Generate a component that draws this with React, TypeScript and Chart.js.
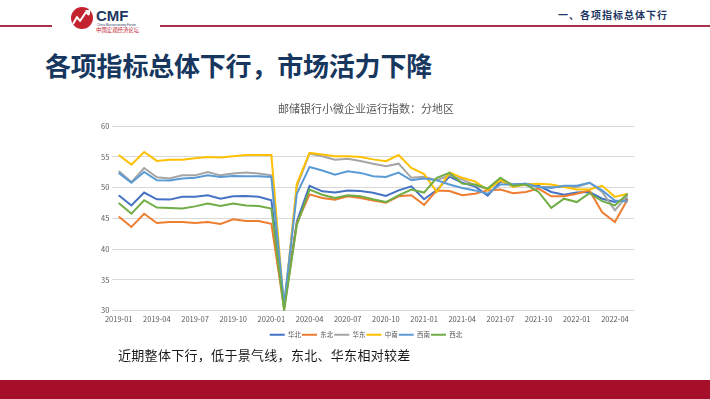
import React, { useEffect, useRef } from "react";
import { Chart, registerables } from "chart.js";

Chart.register(...registerables);

const months = [
  "2019-01", "2019-02", "2019-03", "2019-04", "2019-05", "2019-06", "2019-07", "2019-08", "2019-09", "2019-10", "2019-11", "2019-12",
  "2020-01", "2020-02", "2020-03", "2020-04", "2020-05", "2020-06", "2020-07", "2020-08", "2020-09", "2020-10", "2020-11", "2020-12",
  "2021-01", "2021-02", "2021-03", "2021-04", "2021-05", "2021-06", "2021-07", "2021-08", "2021-09", "2021-10", "2021-11", "2021-12",
  "2022-01", "2022-02", "2022-03", "2022-04", "2022-05",
];

const seriesNames = ["华北", "东北", "华东", "中南", "西南", "西北"];
const seriesColors = ["#4472C4", "#ED7D31", "#A5A5A5", "#FFC000", "#5B9BD5", "#70AD47"];

const huabei = [
  48.75, 47.1, 49.2, 48.1, 48.05, 48.5, 48.5, 48.75, 48.2, 48.6, 48.65, 48.5, 47.95,
  30.6, 44.5, 50.3, 49.4, 49.2, 49.55, 49.45, 49.15, 48.65, 49.55, 50.2,
  48.1, 49.6, 51.8, 50.8, 50.2, 48.7, 51.0, 50.5, 50.65, 50.3, 49.3, 48.85,
  49.2, 49.3, 48.2, 47.65, 48.2,
];
const dongbei = [
  45.3, 43.6, 45.75, 44.25, 44.4, 44.4, 44.25, 44.4, 44.1, 44.85, 44.55, 44.55, 44.1,
  30.3, 44.2, 48.9, 48.3, 48.05, 48.6, 48.3, 47.9, 47.55, 48.6, 48.75,
  47.2, 49.55, 49.45, 48.75, 49.0, 49.55, 49.7, 49.1, 49.3, 49.85, 48.6, 48.6,
  49.0, 49.55, 46.0, 44.4, 48.1,
];
const huadong = [
  52.7, 50.9, 53.2, 51.7, 51.5, 52.0, 52.0, 52.55, 52.0, 52.3, 52.45, 52.3, 52.0,
  30.4, 50.2, 55.55, 55.1, 54.55, 54.7, 54.35, 53.9, 53.5, 53.9, 51.6,
  51.75, 51.2, 52.0, 51.3, 50.4, 49.7, 51.2, 50.5, 50.4, 50.1, 50.1, 50.1,
  50.1, 50.8, 49.3, 46.3, 48.75,
];
const zhongnan = [
  55.3, 53.75, 55.8, 54.35, 54.55, 54.55, 54.8, 55.0, 54.9, 55.1, 55.3, 55.3, 55.3,
  30.2, 50.6, 55.65, 55.4, 55.1, 55.1, 55.0, 54.6, 54.3, 55.3, 53.2,
  52.2, 49.3, 52.45, 51.6, 51.0, 49.6, 51.2, 50.1, 50.5, 50.65, 50.5, 50.1,
  49.7, 49.7, 50.3, 48.5, 49.0,
];
const xinan = [
  52.4, 50.8, 52.55, 51.2, 51.15, 51.5, 51.6, 52.0, 51.75, 51.9, 51.85, 51.85, 51.75,
  31.0, 49.0, 53.35, 52.8, 52.1, 52.65, 52.4, 51.85, 51.75, 52.45, 51.2,
  51.5, 51.2, 50.5, 49.95, 49.55, 49.0, 50.5, 50.5, 50.65, 50.1, 49.95, 50.3,
  50.3, 50.8, 49.55, 47.9, 47.75,
];
const xibei = [
  47.5, 45.75, 47.95, 46.75, 46.7, 46.6, 46.95, 47.4, 47.0, 47.4, 47.1, 47.0, 46.6,
  30.0, 43.9, 49.7, 48.85, 48.3, 48.75, 48.6, 48.1, 47.65, 48.75, 49.7,
  49.2, 51.6, 52.4, 50.65, 50.5, 49.85, 51.6, 50.3, 50.5, 49.3, 46.7, 48.2,
  47.65, 49.1, 47.8, 47.1, 49.0,
];
const seriesValues = [huabei, dongbei, huadong, zhongnan, xinan, xibei];

const yMin = 30;
const yMax = 60;
const yStep = 5;
const labelEvery = 3;

const chartTitle = "邮储银行小微企业运行指数：分地区";
const slideTitle = "各项指标总体下行，市场活力下降";
const sectionTitle = "一、各项指标总体下行";
const caption = "近期整体下行，低于景气线，东北、华东相对较差";

const FONT = '"Noto Sans CJK SC", "Noto Sans", sans-serif';

function ChartBox() {
  const ref = useRef<HTMLCanvasElement | null>(null);
  useEffect(() => {
    if (!ref.current) return;
    const n = seriesNames.length;
    const chart = new Chart(ref.current, {
      type: "line",
      data: {
        labels: months,
        datasets: seriesNames.map((name, i) => ({
          label: name,
          data: seriesValues[i],
          borderColor: seriesColors[i],
          backgroundColor: seriesColors[i],
          borderWidth: 2,
          pointRadius: 0,
          tension: 0,
          order: n - 1 - i,
        })),
      },
      options: {
        animation: false,
        responsive: false,
        devicePixelRatio: 1,
        layout: { padding: { left: 38, right: 16, top: 0, bottom: 0 } },
        font: { family: FONT },
        plugins: {
          title: {
            display: true,
            text: chartTitle,
            color: "#595959",
            font: { family: FONT, size: 11, weight: "normal" },
            padding: { top: 4, bottom: 11 },
          },
          legend: {
            display: true,
            position: "bottom",
            labels: {
              boxWidth: 15,
              boxHeight: 2,
              padding: 1,
              color: "#595959",
              font: { family: FONT, size: 6.5 },
              sort: (a: any, b: any) => a.datasetIndex - b.datasetIndex,
              generateLabels: (c: any) =>
                (Chart.defaults.plugins.legend.labels.generateLabels as any)(c).map((l: any) => ({ ...l, lineWidth: 0 })),
            },
          },
          tooltip: { enabled: false },
        },
        scales: {
          x: {
            type: "category",
            offset: true,
            grid: { display: false, drawTicks: false },
            border: { display: false },
            ticks: {
              autoSkip: false,
              maxRotation: 0,
              minRotation: 0,
              padding: 4,
              color: "#595959",
              font: { family: FONT, size: 7.5 },
              callback: (_v: any, i: number) => (i % labelEvery === 0 ? months[i] : ""),
            },
            afterFit: (scale: any) => {
              scale.height += 3;
            },
          },
          y: {
            min: yMin,
            max: yMax,
            grid: { color: "#D9D9D9", lineWidth: 1, drawTicks: false },
            border: { display: false },
            ticks: {
              stepSize: yStep,
              padding: 3,
              color: "#595959",
              font: { family: FONT, size: 7.5 },
            },
          },
        },
      },
    } as any);
    return () => chart.destroy();
  }, []);
  return (
    <canvas
      ref={ref}
      width={590}
      height={250}
      style={{ position: "absolute", left: 60, top: 98, width: 590, height: 250 }}
    />
  );
}

function Logo() {
  return (
    <svg width={110} height={34} style={{ position: "absolute", left: 66, top: 2 }} viewBox="0 0 110 34">
      <circle cx={16} cy={16} r={11} fill="#C3222F" />
      <path d="M7 22 L11 15 L14 19 L20 10 L23 13" stroke="#fff" strokeWidth={2} fill="none" strokeLinejoin="round" />
      <path d="M19 8 L24 8 L24 13 Z" fill="#fff" />
      <text x={30} y={19} fontFamily="Liberation Sans, Arial, sans-serif" fontWeight="bold" fontSize={15} fill="#1F3864">CMF</text>
      <text x={31} y={23.5} fontFamily="Liberation Sans, Arial, sans-serif" fontSize={3} fill="#1F3864">China Macroeconomy Forum</text>
      <text x={30} y={29.5} fontFamily={FONT} fontSize={5.4} fill="#C3222F">中国宏观经济论坛</text>
    </svg>
  );
}

export default function App() {
  return (
    <div
      style={{
        position: "absolute",
        left: 0,
        top: 0,
        width: 710,
        height: 399,
        overflow: "hidden",
        background: "#ffffff",
        fontFamily: FONT,
      }}
    >
      <div style={{ position: "absolute", left: 0, top: 25, width: 52, height: 2, background: "#A8304A" }} />
      <div style={{ position: "absolute", left: 160, top: 25, width: 550, height: 2, background: "#A8304A" }} />
      <Logo />
      <div
        style={{
          position: "absolute",
          left: 558,
          top: 8,
          height: 14,
          lineHeight: "14px",
          fontSize: 10,
          fontWeight: "bold",
          letterSpacing: 1,
          color: "#1F3864",
          whiteSpace: "nowrap",
        }}
      >
        {sectionTitle}
      </div>
      <div
        style={{
          position: "absolute",
          left: 45,
          top: 50,
          height: 30,
          lineHeight: "30px",
          fontSize: 26,
          fontWeight: "bold",
          letterSpacing: -0.2,
          color: "#17375E",
          whiteSpace: "nowrap",
        }}
      >
        {slideTitle}
      </div>
      <ChartBox />
      <div
        style={{
          position: "absolute",
          left: 118,
          top: 346,
          height: 18,
          lineHeight: "18px",
          fontSize: 13,
          letterSpacing: 0.3,
          color: "#1a1a1a",
          whiteSpace: "nowrap",
        }}
      >
        {caption}
      </div>
      <div style={{ position: "absolute", left: 0, top: 380, width: 710, height: 19, background: "#A50F2A" }} />
    </div>
  );
}
